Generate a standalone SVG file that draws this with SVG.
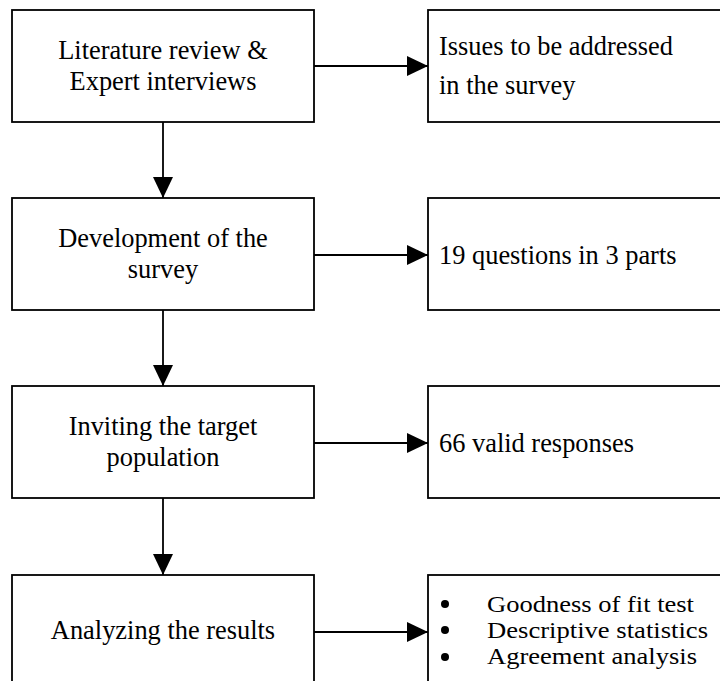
<svg xmlns="http://www.w3.org/2000/svg" width="720" height="681" viewBox="0 0 720 681">
<style>
.box{fill:#fff;stroke:#000;stroke-width:1.8}
text{font-family:'Liberation Serif','Times New Roman','DejaVu Serif',serif;font-size:26.4px;fill:#000}
.c{text-anchor:middle}
.b{font-size:23.5px}
.conn{stroke:#000;stroke-width:1.8;fill:none;marker-end:url(#ah)}
</style>
<defs>
<marker id="ah" markerUnits="userSpaceOnUse" markerWidth="22" markerHeight="20" refX="21" refY="10" orient="auto" overflow="visible">
<path d="M0,0 L21,10 L0,20 Z" fill="#000"/>
</marker>
</defs>
<rect width="720" height="681" fill="#fff"/>
<g id="n1" font-family="Liberation Serif, serif">
<rect class="box" x="12" y="10" width="302" height="112"/>
<text class="c" x="163" y="59">Literature review &amp;</text>
<text class="c" x="163" y="89.5">Expert interviews</text>
</g>
<g id="n2" font-family="Liberation Serif, serif">
<rect class="box" x="428" y="10" width="300" height="112"/>
<text x="439" y="55" textLength="234" lengthAdjust="spacing">Issues to be addressed</text>
<text x="439" y="94">in the survey</text>
</g>
<g id="n3" font-family="Liberation Serif, serif">
<rect class="box" x="12" y="198" width="302" height="112"/>
<text class="c" x="163" y="247">Development of the</text>
<text class="c" x="163" y="277.5">survey</text>
</g>
<g id="n4" font-family="Liberation Serif, serif">
<rect class="box" x="428" y="198" width="300" height="112"/>
<text x="439" y="264">19 questions in 3 parts</text>
</g>
<g id="n5" font-family="Liberation Serif, serif">
<rect class="box" x="12" y="386" width="302" height="112"/>
<text class="c" x="163" y="435">Inviting the target</text>
<text class="c" x="163" y="465.5">population</text>
</g>
<g id="n6" font-family="Liberation Serif, serif">
<rect class="box" x="428" y="386" width="300" height="112"/>
<text x="439" y="452">66 valid responses</text>
</g>
<g id="n7" font-family="Liberation Serif, serif">
<rect class="box" x="12" y="575" width="302" height="112"/>
<text class="c" x="163" y="639">Analyzing the results</text>
</g>
<g id="n8" font-family="Liberation Serif, serif">
<rect class="box" x="428" y="575" width="300" height="112"/>
<circle cx="445" cy="604" r="4"/>
<circle cx="445" cy="630" r="4"/>
<circle cx="445" cy="657" r="4"/>
<text class="b" x="487" y="611.5" textLength="207" lengthAdjust="spacingAndGlyphs">Goodness of fit test</text>
<text class="b" x="487" y="637.5" textLength="221" lengthAdjust="spacingAndGlyphs">Descriptive statistics</text>
<text class="b" x="487" y="664" textLength="210" lengthAdjust="spacingAndGlyphs">Agreement analysis</text>
</g>
<g id="connectors">
<line class="conn" x1="314" y1="66" x2="428" y2="66"/>
<line class="conn" x1="163" y1="122" x2="163" y2="198"/>
<line class="conn" x1="314" y1="255" x2="428" y2="255"/>
<line class="conn" x1="163" y1="310" x2="163" y2="386"/>
<line class="conn" x1="314" y1="443" x2="428" y2="443"/>
<line class="conn" x1="163" y1="498" x2="163" y2="575"/>
<line class="conn" x1="314" y1="632" x2="428" y2="632"/>
</g>
</svg>
